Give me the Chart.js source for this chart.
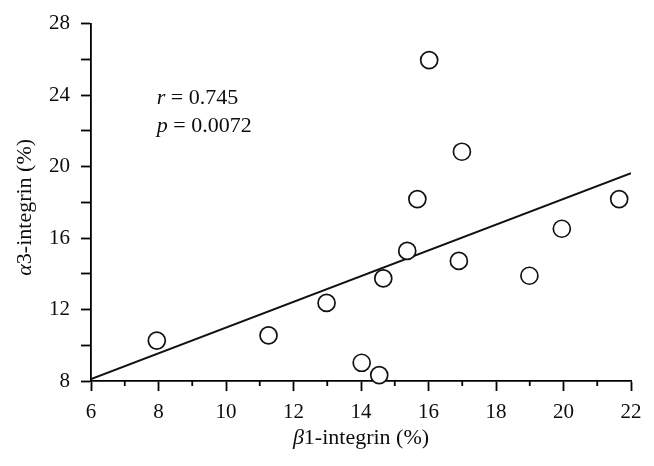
<!DOCTYPE html>
<html lang="en">
<head>
<meta charset="UTF-8">
<title>α3-integrin vs β1-integrin</title>
<script src="https://cdn.jsdelivr.net/npm/chart.js@4"></script>
<style>
  html, body { margin: 0; padding: 0; background: #fff; }
  #wrap { width: 654px; height: 466px; }
</style>
</head>
<body>
<div id="wrap"><canvas id="chart" width="654" height="466"></canvas></div>
<script>
// values
const beta1 = [7.95, 11.26, 12.98, 14.02, 14.54, 14.66, 15.37, 15.67, 16.02, 16.90, 16.99, 18.99, 19.95, 21.65];
const alpha3 = [10.26, 10.55, 12.37, 9.02, 8.33, 13.74, 15.28, 18.18, 25.96, 14.72, 20.83, 13.89, 16.52, 18.18];
// regression line end points
const fitX = [6, 22];
const fitY = [8.11, 19.63];
// labelled ticks
const xLabels = [6, 8, 10, 12, 14, 16, 18, 20, 22];
const yLabels = [8, 12, 16, 20, 24, 28];
// titles / annotation (italic runs flagged)
const xTitle = [['β', true], ['1-integrin (%)', false]];
const yTitle = [['α', true], ['3-integrin (%)', false]];
const statLines = [
    { at: [7.95, 23.8], runs: [['r', true], [' = 0.745', false]] },
    { at: [7.95, 22.25], runs: [['p', true], [' = 0.0072', false]] }
];

const FONT = "'Liberation Serif', 'Times New Roman', serif";
const INK = '#0d0d0d';
const LW = 1.8;

function runsWidth(ctx, runs, size) {
    let w = 0;
    runs.forEach(r => {
        ctx.font = (r[1] ? 'italic ' : '') + size + 'px ' + FONT;
        w += ctx.measureText(r[0]).width;
    });
    return w;
}
function drawRuns(ctx, runs, x, y, size) {
    runs.forEach(r => {
        ctx.font = (r[1] ? 'italic ' : '') + size + 'px ' + FONT;
        ctx.fillText(r[0], x, y);
        x += ctx.measureText(r[0]).width;
    });
}

const textPlugin = {
    id: 'texts',
    afterDraw(chart) {
        const ctx = chart.ctx;
        const area = chart.chartArea;
        const xs = chart.scales.x, ys = chart.scales.y;
        ctx.save();
        ctx.fillStyle = INK;
        ctx.textBaseline = 'middle';
        ctx.textAlign = 'left';

        // minor x ticks (shorter)
        ctx.strokeStyle = '#000';
        ctx.lineWidth = LW;
        xs.ticks.forEach(t => {
            if (xLabels.includes(t.value)) return;
            const px = xs.getPixelForValue(t.value);
            ctx.beginPath();
            ctx.moveTo(px, area.bottom);
            ctx.lineTo(px, area.bottom + 5);
            ctx.stroke();
        });

        // x title
        let w = runsWidth(ctx, xTitle, 22);
        drawRuns(ctx, xTitle, (area.left + area.right) / 2 - w / 2, area.bottom + 57, 22);

        // y title, rotated
        w = runsWidth(ctx, yTitle, 22);
        ctx.save();
        ctx.translate(25, (area.top + area.bottom) / 2 + 5);
        ctx.rotate(-Math.PI / 2);
        drawRuns(ctx, yTitle, -w / 2, 0, 22);
        ctx.restore();

        // r / p annotation
        statLines.forEach(s => {
            drawRuns(ctx, s.runs, xs.getPixelForValue(s.at[0]), ys.getPixelForValue(s.at[1]), 22);
        });
        ctx.restore();
    }
};

new Chart(document.getElementById('chart'), {
    type: 'scatter',
    data: {
        datasets: [
            {
                label: 'samples',
                data: beta1.map((x, i) => ({ x: x, y: alpha3[i] })),
                pointStyle: 'circle',
                pointRadius: 8.5,
                pointBorderWidth: 1.7,
                pointBackgroundColor: '#fff',
                pointBorderColor: '#111',
                clip: false,
                order: 0
            },
            {
                type: 'line',
                label: 'fit',
                data: fitX.map((x, i) => ({ x: x, y: fitY[i] })),
                borderColor: '#111',
                borderWidth: LW,
                pointRadius: 0,
                fill: false,
                order: 1
            }
        ]
    },
    options: {
        responsive: false,
        animation: false,
        events: [],
        layout: { padding: { top: 21, right: 23, left: 0, bottom: 0 } },
        plugins: { legend: { display: false }, tooltip: { enabled: false } },
        scales: {
            x: {
                type: 'linear',
                min: 6, max: 22,
                border: { display: true, color: '#000', width: LW },
                grid: {
                    drawOnChartArea: false, drawTicks: true, tickLength: 10, tickWidth: LW,
                    tickColor: c => xLabels.includes(c.tick && c.tick.value) ? '#000' : 'rgba(0,0,0,0)'
                },
                ticks: {
                    stepSize: 1, autoSkip: false, maxRotation: 0, padding: 9,
                    color: INK, font: { family: FONT, size: 21 },
                    callback: v => xLabels.includes(v) ? String(v) : ''
                },
                afterFit: s => { s.height = 85; }
            },
            y: {
                type: 'linear',
                min: 8, max: 28,
                border: { display: true, color: '#000', width: LW },
                grid: { drawOnChartArea: false, drawTicks: true, tickLength: 10, tickWidth: LW, tickColor: '#000' },
                ticks: {
                    stepSize: 2, autoSkip: false, padding: 11,
                    color: INK, font: { family: FONT, size: 21 },
                    callback: v => yLabels.includes(v) ? String(v) : ''
                },
                afterFit: s => { s.width = 91; }
            }
        }
    },
    plugins: [textPlugin]
});
</script>
</body>
</html>
